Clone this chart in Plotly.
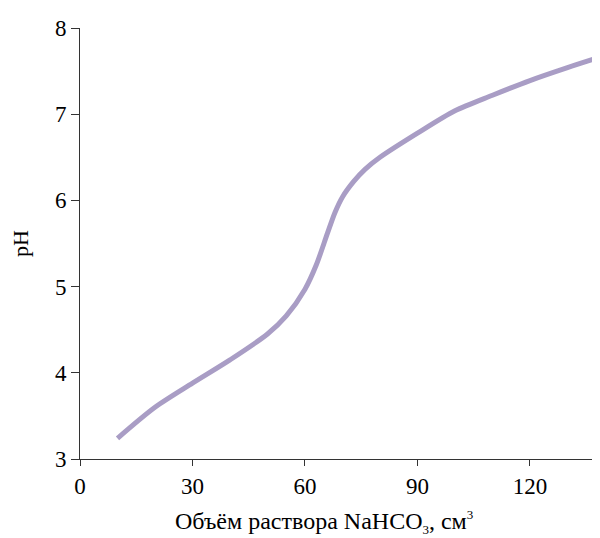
import plotly.graph_objects as go

volume = [10, 20, 30, 40, 50, 55, 60, 63, 66, 68, 70, 73, 76, 80, 90, 100, 110, 120, 130, 140]
ph = [3.24, 3.60, 3.88, 4.15, 4.45, 4.66, 4.97, 5.25, 5.62, 5.86, 6.04, 6.22, 6.36, 6.50, 6.78, 7.04, 7.22, 7.39, 7.54, 7.68]

x_ticks = [0, 30, 60, 90, 120]
y_ticks = [3, 4, 5, 6, 7, 8]

fig = go.Figure()
fig.add_trace(go.Scatter(
    x=volume, y=ph, mode="lines",
    line=dict(color="#a99dc5", width=5, shape="spline", smoothing=0.8),
    showlegend=False,
))

font = dict(family="Liberation Serif, Times New Roman, serif", color="#000000")
fig.update_layout(
    width=600, height=538,
    margin=dict(l=72, r=8, t=14, b=87),
    paper_bgcolor="white", plot_bgcolor="white",
    font=dict(**font, size=23),
    xaxis=dict(
        range=[0, 138.67], tickvals=x_ticks, ticks="outside", ticklen=6,
        tickcolor="#333", showline=True, linecolor="#333", linewidth=1,
        showgrid=False, zeroline=False, tickfont=dict(size=23),
    ),
    yaxis=dict(
        range=[3, 8], tickvals=y_ticks, ticks="outside", ticklen=8,
        tickcolor="#333", showline=True, linecolor="#333", linewidth=1,
        showgrid=False, zeroline=False, tickfont=dict(size=23),
        title=dict(text="pH", font=dict(size=22), standoff=20),
    ),
    annotations=[dict(
        text="Объём раствора NaHCO<sub><span style='font-size:13px'>3</span></sub>, см<sup><span style='font-size:13px'>3</span></sup>",
        xref="paper", yref="paper", x=0.469, y=-0.146,
        xanchor="center", yanchor="middle", showarrow=False,
        font=dict(size=24),
    )],
)
fig.write_html("out.html")
